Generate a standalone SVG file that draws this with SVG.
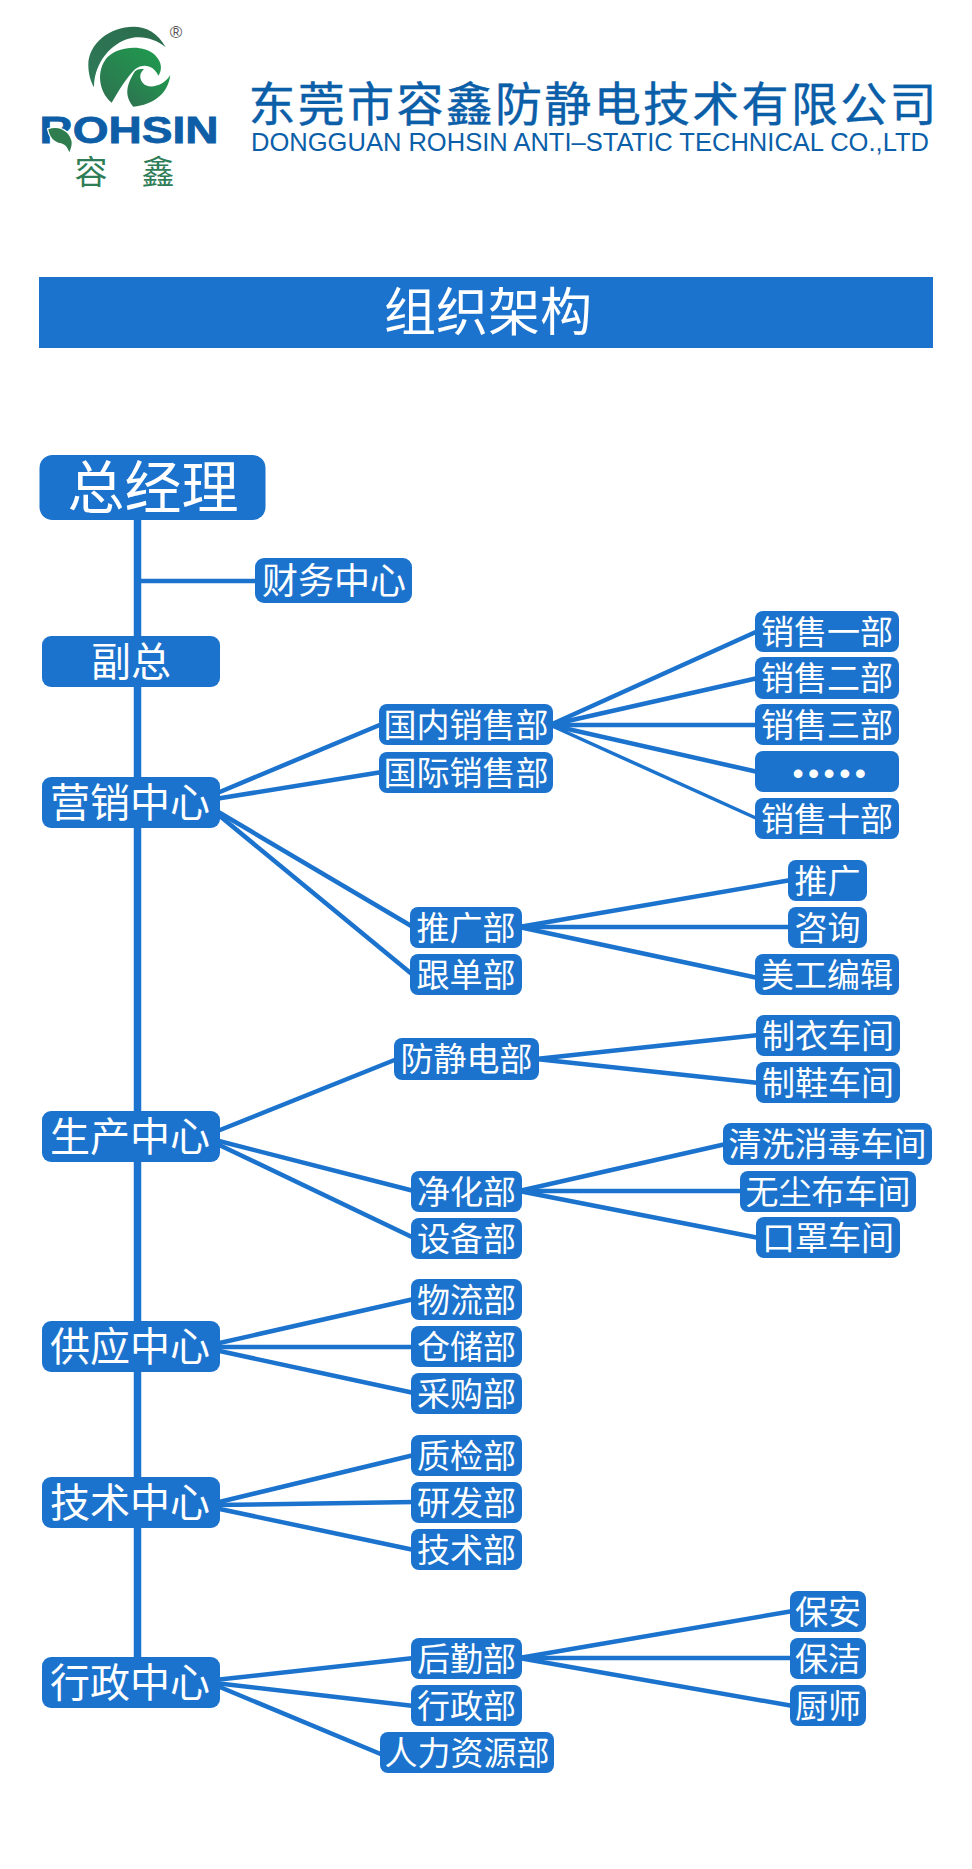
<svg xmlns="http://www.w3.org/2000/svg" width="972" height="1869" viewBox="0 0 972 1869">
<style>
text{font-family:"Noto Sans CJK SC","Noto Sans",sans-serif;text-anchor:middle}
.b{fill:#1b73cd}
.l{fill:#fff;font-size:33px}
.m{fill:#fff;font-size:40px}
.c line{stroke:#1b73cd;stroke-width:4.5}
.c line.t{stroke-width:7.5}
</style>
<defs>
<linearGradient id="g1" x1="0" y1="1" x2="1" y2="0"><stop offset="0" stop-color="#2f7a58"/><stop offset="1" stop-color="#2a6b4c"/></linearGradient>
<linearGradient id="g2" x1="0" y1="1" x2="1" y2="0"><stop offset="0" stop-color="#2e7150"/><stop offset="1" stop-color="#1f9c4e"/></linearGradient>
</defs>
<rect width="972" height="1869" fill="#fff"/>
<g id="logo">
<g transform="translate(20,10) scale(.3333)">
<path fill="url(#g1)" d="M437 112C415 70 380 50 340 50C270 50 205 100 205 165C205 190 212 215 222 232C222 170 260 110 320 88C360 74 405 85 437 112Z"/>
<path fill="url(#g2)" d="M275 278C235 245 228 180 262 142C295 108 370 102 405 135C428 158 426 182 415 197C402 168 372 158 345 178C318 205 298 240 275 278Z"/>
<path fill="url(#g2)" d="M345 184C322 220 310 255 340 290C400 285 445 250 451 195C432 228 385 240 368 218C358 205 358 190 372 178C362 176 352 178 345 184Z"/>
</g>
<text x="129" y="143" font-size="36" font-weight="700" fill="#0d5ea6" stroke="#0d5ea6" stroke-width=".8" textLength="179" lengthAdjust="spacingAndGlyphs" style="font-family:'Liberation Sans',sans-serif">ROHSIN</text>
<g transform="translate(20,10) scale(.3333)">
<path fill="#2f7d4f" stroke="#fff" stroke-width="8" paint-order="stroke" d="M85 358C120 345 150 368 155 395C156 410 150 420 148 427C141 405 130 400 115 398C95 390 88 375 85 358Z"/>
</g>
<text x="91" y="184" font-size="33" fill="#2f7d57">容</text>
<text x="158" y="184" font-size="33" fill="#2f7d57">鑫</text>
<text x="176" y="38" font-size="17" fill="#555" style="font-family:'Liberation Sans',sans-serif">®</text>
</g>
<g id="company">
<text x="592.500" y="121" font-size="47" fill="#0b5ea8" stroke="#0b5ea8" stroke-width=".4" textLength="688">东莞市容鑫防静电技术有限公司</text>
<text x="590" y="151" font-size="26" fill="#0b5ea8" textLength="678" lengthAdjust="spacingAndGlyphs" style="font-family:'Liberation Sans',sans-serif">DONGGUAN ROHSIN ANTI–STATIC TECHNICAL CO.,LTD</text>
</g>
<g id="banner">
<rect class="b" x="39" y="277" width="894" height="71"/>
<text x="488" y="331" font-size="52" fill="#fff">组织架构</text>
</g>
<g id="connectors" class="c">
<line class="t" x1="137.500" y1="515" x2="137.500" y2="1660"/>
<line x1="138" y1="581" x2="258" y2="581"/>
<line x1="215" y1="794" x2="382" y2="724"/>
<line x1="215" y1="799" x2="382" y2="772"/>
<line x1="215" y1="810" x2="413" y2="927"/>
<line x1="215" y1="812" x2="413" y2="975"/>
<line x1="550" y1="725" x2="758" y2="631"/>
<line x1="550" y1="725" x2="758" y2="678"/>
<line x1="550" y1="725" x2="758" y2="725"/>
<line x1="550" y1="725" x2="758" y2="772"/>
<line x1="550" y1="725" x2="758" y2="819" style="stroke-width:3.500"/>
<line x1="519" y1="927" x2="791" y2="880"/>
<line x1="519" y1="927" x2="791" y2="927"/>
<line x1="519" y1="927" x2="758" y2="978"/>
<line x1="215" y1="1132" x2="397" y2="1059"/>
<line x1="215" y1="1140" x2="414" y2="1191"/>
<line x1="215" y1="1143" x2="414" y2="1238"/>
<line x1="536" y1="1059" x2="759" y2="1035"/>
<line x1="536" y1="1059" x2="759" y2="1083"/>
<line x1="519" y1="1191" x2="726" y2="1144"/>
<line x1="519" y1="1191" x2="743" y2="1191"/>
<line x1="519" y1="1191" x2="759" y2="1238"/>
<line x1="215" y1="1344" x2="414" y2="1299"/>
<line x1="215" y1="1347" x2="414" y2="1347"/>
<line x1="215" y1="1350" x2="414" y2="1393"/>
<line x1="215" y1="1503" x2="414" y2="1455"/>
<line x1="215" y1="1505" x2="414" y2="1502"/>
<line x1="215" y1="1508" x2="414" y2="1550"/>
<line x1="215" y1="1680" x2="414" y2="1658"/>
<line x1="215" y1="1683" x2="414" y2="1706"/>
<line x1="215" y1="1685" x2="383" y2="1755"/>
<line x1="519" y1="1658" x2="793" y2="1611"/>
<line x1="519" y1="1658" x2="793" y2="1658"/>
<line x1="519" y1="1658" x2="793" y2="1706"/>
</g>
<g id="n-gm"><rect class="b" x="39.500" y="455" width="226" height="65" rx="13"/><text x="153" y="508" font-size="57" fill="#fff">总经理</text></g>
<g id="n-finance"><rect class="b" x="255" y="558" width="157" height="45" rx="9"/><text x="334" y="594" font-size="36" fill="#fff">财务中心</text></g>
<g id="n-vp"><rect class="b" x="42" y="636" width="178" height="51" rx="9"/><text x="131" y="676" class="m">副总</text></g>
<g id="n-sales"><rect class="b" x="42" y="777" width="178" height="51" rx="9"/><text x="130" y="817" class="m">营销中心</text></g>
<g id="n-prod"><rect class="b" x="42" y="1111" width="178" height="51" rx="9"/><text x="130" y="1151" class="m">生产中心</text></g>
<g id="n-supply"><rect class="b" x="42" y="1321" width="178" height="51" rx="9"/><text x="130" y="1361" class="m">供应中心</text></g>
<g id="n-tech"><rect class="b" x="42" y="1477" width="178" height="51" rx="9"/><text x="130" y="1517" class="m">技术中心</text></g>
<g id="n-admin"><rect class="b" x="42" y="1657" width="178" height="51" rx="9"/><text x="130" y="1697" class="m">行政中心</text></g>
<g id="n-dom"><rect class="b" x="379" y="704" width="174" height="41" rx="8"/><text x="466" y="737" class="l">国内销售部</text></g>
<g id="n-intl"><rect class="b" x="379" y="752" width="174" height="41" rx="8"/><text x="466" y="785" class="l">国际销售部</text></g>
<g id="n-promo"><rect class="b" x="410" y="907" width="112" height="41" rx="8"/><text x="466" y="940" class="l">推广部</text></g>
<g id="n-follow"><rect class="b" x="410" y="954" width="112" height="41" rx="8"/><text x="466" y="987" class="l">跟单部</text></g>
<g id="n-s1"><rect class="b" x="755" y="611" width="144" height="41" rx="8"/><text x="827" y="644" class="l">销售一部</text></g>
<g id="n-s2"><rect class="b" x="755" y="657" width="144" height="42" rx="8"/><text x="827" y="690" class="l">销售二部</text></g>
<g id="n-s3"><rect class="b" x="755" y="704" width="144" height="41" rx="8"/><text x="827" y="737" class="l">销售三部</text></g>
<g id="n-sx"><rect class="b" x="755" y="751" width="144" height="41" rx="8"/><text x="831.400" y="784" font-size="32" fill="#fff" letter-spacing="4.400" style="font-family:'Liberation Sans',sans-serif">•••••</text></g>
<g id="n-s10"><rect class="b" x="755" y="798" width="144" height="41" rx="8"/><text x="827" y="831" class="l">销售十部</text></g>
<g id="n-tg"><rect class="b" x="788" y="860" width="79" height="41" rx="8"/><text x="827.500" y="893" class="l">推广</text></g>
<g id="n-zx"><rect class="b" x="788" y="907" width="79" height="41" rx="8"/><text x="827.500" y="940" class="l">咨询</text></g>
<g id="n-mg"><rect class="b" x="755" y="954" width="144" height="41" rx="8"/><text x="827" y="987" class="l">美工编辑</text></g>
<g id="n-esd"><rect class="b" x="394" y="1038" width="145" height="42" rx="8"/><text x="466.500" y="1071" class="l">防静电部</text></g>
<g id="n-clean"><rect class="b" x="411" y="1171" width="111" height="41" rx="8"/><text x="466.500" y="1204" class="l">净化部</text></g>
<g id="n-equip"><rect class="b" x="411" y="1218" width="111" height="41" rx="8"/><text x="466.500" y="1251" class="l">设备部</text></g>
<g id="n-w1"><rect class="b" x="756" y="1015" width="144" height="41" rx="8"/><text x="828" y="1048" class="l">制衣车间</text></g>
<g id="n-w2"><rect class="b" x="756" y="1062" width="144" height="41" rx="8"/><text x="828" y="1095" class="l">制鞋车间</text></g>
<g id="n-w3"><rect class="b" x="723" y="1123" width="209" height="42" rx="8"/><text x="827.500" y="1156" class="l">清洗消毒车间</text></g>
<g id="n-w4"><rect class="b" x="740" y="1171" width="176" height="41" rx="8"/><text x="828" y="1204" class="l">无尘布车间</text></g>
<g id="n-w5"><rect class="b" x="756" y="1217" width="144" height="41" rx="8"/><text x="828" y="1250" class="l">口罩车间</text></g>
<g id="n-log"><rect class="b" x="411" y="1279" width="111" height="41" rx="8"/><text x="466.500" y="1312" class="l">物流部</text></g>
<g id="n-wh"><rect class="b" x="411" y="1326" width="111" height="41" rx="8"/><text x="466.500" y="1359" class="l">仓储部</text></g>
<g id="n-pur"><rect class="b" x="411" y="1373" width="111" height="41" rx="8"/><text x="466.500" y="1406" class="l">采购部</text></g>
<g id="n-qc"><rect class="b" x="411" y="1435" width="111" height="41" rx="8"/><text x="466.500" y="1468" class="l">质检部</text></g>
<g id="n-rd"><rect class="b" x="411" y="1482" width="111" height="41" rx="8"/><text x="466.500" y="1515" class="l">研发部</text></g>
<g id="n-td"><rect class="b" x="411" y="1529" width="111" height="41" rx="8"/><text x="466.500" y="1562" class="l">技术部</text></g>
<g id="n-hq"><rect class="b" x="411" y="1638" width="111" height="41" rx="8"/><text x="466.500" y="1671" class="l">后勤部</text></g>
<g id="n-ad"><rect class="b" x="411" y="1685" width="111" height="41" rx="8"/><text x="466.500" y="1718" class="l">行政部</text></g>
<g id="n-hr"><rect class="b" x="380" y="1732" width="174" height="41" rx="8"/><text x="467" y="1765" class="l">人力资源部</text></g>
<g id="n-ba"><rect class="b" x="790" y="1591" width="76" height="41" rx="8"/><text x="828" y="1624" class="l">保安</text></g>
<g id="n-bj"><rect class="b" x="790" y="1638" width="76" height="41" rx="8"/><text x="828" y="1671" class="l">保洁</text></g>
<g id="n-cs"><rect class="b" x="790" y="1685" width="76" height="41" rx="8"/><text x="828" y="1718" class="l">厨师</text></g>
</svg>
